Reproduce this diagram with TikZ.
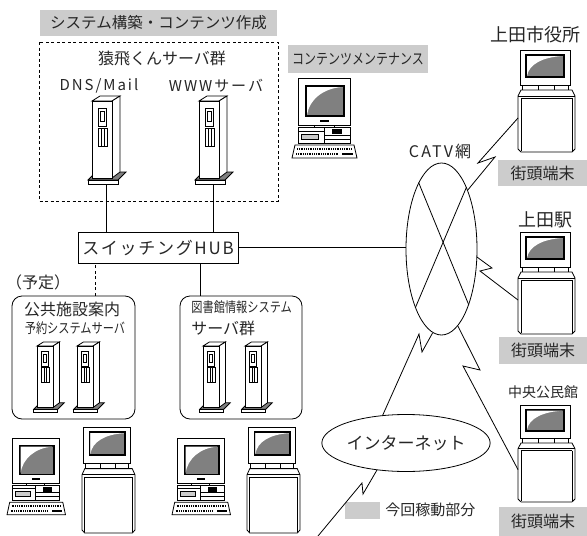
\documentclass[tikz,border=0pt]{standalone}
\usepackage{fontspec}
\usepackage{graphicx}
\setmainfont{Noto Sans CJK JP}
\newfontfamily\spaced[LetterSpace=10]{Noto Sans CJK JP}
\newfontfamily\wide[LetterSpace=13]{Noto Sans CJK JP}
\usetikzlibrary{shapes.geometric,calc}

\definecolor{active}{gray}{0.8}
\definecolor{screen}{gray}{0.5}
\definecolor{ink}{gray}{0.15}
\newcommand\fsz[1]{\fontsize{#1}{#1}\selectfont}

\tikzset{
  graybox/.style={fill=active, inner sep=0pt},
  txt/.style={inner sep=0pt},
  grp/.style={draw, rounded corners=10pt, minimum width=#1, minimum height=123pt},
  % tower server, origin at the front top-left corner
  server/.pic={
    \draw[fill=screen] (-4,84) -- (4,76) -- (34,76) -- (26,84) -- cycle;
    \draw[fill=white] (-4,84) rectangle (26,88);
    \draw[fill=white] (0,5) -- (8,0) -- (28,0) -- (20,5) -- cycle;
    \draw[fill=white] (20,5) -- (28,0) -- (28,76) -- (20,82) -- cycle;
    \draw[fill=white] (0,5) rectangle (20,82);
    \draw (6,12) rectangle (14,30);
    \draw (8,15) rectangle (12,25);
    \draw (6,32) rectangle (15,50);
    \draw (9,32) -- (9,50) (12,32) -- (12,50);
    \coordinate (-foot) at (14,88);
  },
  % street terminal
  kiosk/.pic={
    \draw[fill=white] (2,0) rectangle (52,35);
    \fill (7,4) rectangle (47,28);
    \fill[screen] (9,6) rectangle (45,26);
    \fill[white] (9,26) .. controls (11,14) and (25,7) .. (45,6) -- (9,6) -- cycle;
    \draw (4,35) rectangle (50,40);
    \draw (20,35) -- (20,40) (36,35) -- (36,40);
    \draw[fill=white] (0,46) -- (3,40) -- (54,40) -- (57,46) -- (57,99)
      -- (54,102) -- (3,102) -- (0,99) -- cycle;
    \draw (0,46) -- (57,46);
    \draw (3,48) -- (54,48);
    \draw (3,48) -- (3,101) (54,48) -- (54,101);
    \coordinate (-left) at (0,68);
  },
  % desktop pc
  pc/.pic={
    \draw[fill=white] (6,0) rectangle (58,47);
    \fill (13,7) rectangle (53,39);
    \fill[screen] (15,9) rectangle (51,37);
    \fill[white] (15,37) .. controls (17,22) and (31,10) .. (51,9) -- (15,9) -- cycle;
    \fill (28,42) rectangle (37,44);
    \draw[fill=white] (22,47) rectangle (42,49);
    \draw[fill=white] (6,49) rectangle (58,65);
    \draw (32,49) -- (32,65) (6,53) -- (32,53) (32,57) -- (58,57) (32,61) -- (58,61);
    \draw[fill=active] (9,56) rectangle (26,61);
    \fill (40,51) rectangle (50,56);
    \draw[fill=white] (0,80) -- (3,67) -- (62,67) -- (65,80) -- cycle;
    \draw[line width=2.5pt, dash pattern=on 1pt off .8pt] (5,71) -- (60,71);
    \draw[line width=2pt, dash pattern=on 1pt off .8pt] (4,76) -- (46,76);
    \draw[line width=2pt] (50,76) -- (61,76);
  }
}

\begin{document}
\begin{tikzpicture}[x=1pt, y=-1pt, line width=.8pt, text=ink]
    \useasboundingbox (0,0) rectangle (587,536);

    % Server group
    \node[graybox, minimum width=237pt, minimum height=26pt, font=\fsz{15.5}] (title) at (158.5,23) {システム構築・コンテンツ作成};
    \draw[dashed, dash pattern=on 3pt off 2.5pt] (39,42) rectangle (278,201);
    \node[txt, font=\fsz{16}] (saru) at (162,58) {猿飛くんサーバ群};
    \node[txt, font=\wide\fsz{15}] (dnsl) at (99,86) {DNS/Mail};
    \node[txt, font=\wide\fsz{15}] (wwwl) at (216,86) {WWWサーバ};
    \pic (dns) at (92,96) {server};
    \pic (www) at (199,96) {server};

    % Maintenance
    \node[graybox, minimum width=140pt, minimum height=28pt] (maint) at (358,59) {\fsz{15}\scalebox{.8}[1]{コンテンツメンテナンス}};
    \pic at (292,78) {pc};

    % Switch
    \node[draw, inner sep=0pt, minimum width=160pt, minimum height=31pt, font=\spaced\fsz{17}] (hub) at (158,247.5) {スイッチングHUB};

    % Planned reservation servers
    \node[txt, font=\fsz{16}] (plan) at (38,282) {（予定）};
    \node[grp=123pt] (resv) at (73.5,357.5) {};
    \node[txt, font=\fsz{16}] (resvl) at (72,309) {公共施設案内};
    \node[txt] (resvs) at (75,328) {\fsz{14}\scalebox{.8}[1]{予約システムサーバ}};
    \pic[scale=.8] at (37,342) {server};
    \pic[scale=.8] at (77,342) {server};

    % Library servers
    \node[grp=122pt] (lib) at (241,357.5) {};
    \node[txt, anchor=west] (libl) at (191,307) {\fsz{14}\scalebox{.8}[1]{図書館情報システム}};
    \node[txt, anchor=west, font=\fsz{16}] (libs) at (191,328) {サーバ群};
    \pic[scale=.8] at (203,342) {server};
    \pic[scale=.8] at (245,342) {server};

    % Terminals below
    \pic[xscale=.9, yscale=.96] at (7,438) {pc};
    \pic[xscale=.93, yscale=1.04] at (82,427) {kiosk};
    \pic[xscale=.9, yscale=.96] at (172,438) {pc};
    \pic[xscale=.93, yscale=1.04] at (247,427) {kiosk};

    % Networks
    \node[draw, ellipse, inner sep=0pt, minimum width=71pt, minimum height=172pt] (catv) at (441.5,249) {};
    \node[txt, font=\wide\fsz{16}] (catvl) at (440,151) {CATV網};
    \draw (catv.109) -- (catv.-64);
    \draw (catv.68) -- (catv.-114);
    \node[draw, ellipse, inner sep=0pt, minimum width=163pt, minimum height=57pt, font=\fsz{17}] (inet) at (406,443) {インターネット};
    \coordinate (edge) at (318,536);

    % Street terminals
    \node[txt, font=\fsz{18}] (ueda1) at (535,35) {上田市役所};
    \pic (k1) at (518,50) {kiosk};
    \node[graybox, minimum width=89pt, minimum height=26pt, font=\fsz{16}] (st1) at (542.5,173) {街頭端末};
    \node[txt, font=\fsz{18}] (ueda2) at (545,220) {上田駅};
    \pic (k2) at (518,232) {kiosk};
    \node[graybox, minimum width=88pt, minimum height=27pt, font=\fsz{16}] (st2) at (543,350.5) {街頭端末};
    \node[txt, font=\fsz{14}] (ueda3) at (543,392) {中央公民館};
    \pic[yscale=.95] (k3) at (518,405) {kiosk};
    \node[graybox, minimum width=88pt, minimum height=29pt, font=\fsz{16}] (st3) at (543,521.5) {街頭端末};

    % Legend
    \fill[active] (345,502) rectangle (380,519);
    \node[txt, anchor=west, font=\fsz{15}] (legend) at (385,510) {今回稼動部分};

    % Wires
    \draw (dns-foot) -- (dns-foot |- hub.north);
    \draw (www-foot) -- (www-foot |- hub.north);
    \draw (hub.east) -- (hub.east -| catv.west);
    \draw[dashed, dash pattern=on 3pt off 2.5pt] ([xshift=22pt]resv.north) -- ([xshift=22pt]resv.north |- hub.south);
    \draw ([xshift=-41pt]lib.north) -- ([xshift=-41pt]lib.north |- hub.south);

    % Radio links
    \draw (catv.66) -- (495,157) -- (478,163) -- (k1-left);
    \draw (catv.-13) -- (492,268) -- (480,271) -- (k2-left);
    \draw (catv.-78) -- (480,370) -- (463,366) -- (k3-left);
    \draw (catv.-96) -- (422,352) -- (419,334) -- (inet.130);
    \draw (inet.-137) -- (363,494) -- (362,483) -- (edge);
\end{tikzpicture}
\end{document}
